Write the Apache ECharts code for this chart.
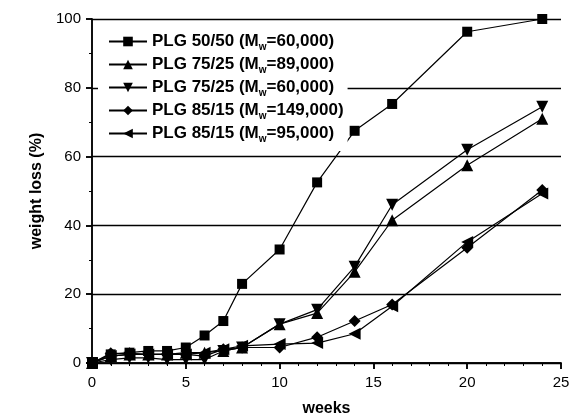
<!DOCTYPE html>
<html>
<head>
<meta charset="utf-8">
<script src="https://cdn.jsdelivr.net/npm/echarts@6/dist/echarts.min.js"></script>
<style>
  html, body { margin: 0; padding: 0; background: #fff; }
  #chart { width: 570px; height: 416px; }
</style>
</head>
<body>
<div id="chart"></div>
<script>
// 数据
const weeks = [0, 1, 2, 3, 4, 5, 6, 7, 8, 10, 12, 14, 16, 20, 24]
const plg5050_60k = [0, 2.5, 3, 3.5, 3.5, 4.5, 8, 12.2, 23, 33, 52.5, 67.5, 75.3, 96.3, 100]
const plg7525_89k = [0, 2, 2.5, 2.5, 2.5, 3, 3, 3.5, 4.5, 11.3, 14.5, 26.5, 41.5, 57.5, 71]
const plg7525_60k = [0, 1, 1.5, 1.5, 1, 1, 1, 3.5, 4.5, 11.3, 15.5, 28, 46, 62, 74.5]
const plg8515_149k = [0, 2.8, 2.8, 2.5, 2.5, 2.5, 2, 4, 4.5, 4.5, 7.5, 12.2, 17, 33.5, 50.3]
const plg8515_95k = [0, 2, 2.5, 2.5, 2.5, 2.5, 3, 4, 5, 5.5, 5.8, 8.5, 16.5, 35.2, 49.3]

const seriesNames = [
  'PLG 50/50 (Mw=60,000)',
  'PLG 75/25 (Mw=89,000)',
  'PLG 75/25 (Mw=60,000)',
  'PLG 85/15 (Mw=149,000)',
  'PLG 85/15 (Mw=95,000)'
]
const yTicks = [0, 20, 40, 60, 80, 100]
const xTicks = [0, 5, 10, 15, 20, 25]

const font = 'Arial, "Liberation Sans", sans-serif'

let pairs = (vals) => weeks.map((w, i) => [w, vals[i]])

let lineSeries = (name, vals, symbol, size, rotate) => ({
  name: name,
  type: 'line',
  data: pairs(vals),
  symbol: symbol,
  symbolSize: size,
  symbolRotate: rotate || 0,
  showAllSymbol: true,
  lineStyle: { color: '#000', width: 1.2 },
  itemStyle: { color: '#000', borderWidth: 0 },
  emphasis: { disabled: true },
  animation: false
})

let chart = echarts.init(document.getElementById('chart'))

let axisCommon = {
  type: 'value',
  axisLine: { show: true, lineStyle: { color: '#000', width: 1.5 } },
  axisTick: { show: true, length: 6, lineStyle: { color: '#000', width: 1.5 } },
  minorTick: { show: true, length: 3, lineStyle: { color: '#000', width: 1 } },
  splitLine: { show: false }
}

let option = {
  backgroundColor: '#fff',
  animation: false,
  grid: { left: 92, right: 9, top: 19, bottom: 53, outerBoundsMode: 'none', containLabel: false },
  legend: {
    data: seriesNames,
    orient: 'vertical',
    left: 98,
    top: 26,
    padding: [7, 4, 7, 10],
    itemGap: 4,
    itemWidth: 38,
    itemHeight: 12,
    backgroundColor: '#fff',
    formatter: function (name) {
      let m = name.match(/^(.*\(M)w(=.*)$/)
      return '{b|' + m[1] + '}{s|w}{b|' + m[2] + '}'
    },
    textStyle: {
      rich: {
        b: { fontFamily: font, fontWeight: 'bold', fontSize: 17, color: '#000' },
        s: { fontFamily: font, fontWeight: 'bold', fontSize: 10, color: '#000', padding: [11, 0, 0, 0] }
      }
    }
  },
  xAxis: [
    Object.assign({}, axisCommon, {
      min: xTicks[0], max: xTicks[xTicks.length - 1], interval: 5,
      position: 'bottom',
      minorTick: { show: true, splitNumber: 5, length: 3, lineStyle: { color: '#000', width: 1 } },
      axisLabel: { color: '#000', fontSize: 15, fontFamily: font, margin: 12 },
      name: 'weeks',
      nameLocation: 'middle',
      nameGap: 38,
      nameTextStyle: { color: '#000', fontSize: 16, fontWeight: 'bold', fontFamily: font }
    }),
    Object.assign({}, axisCommon, {
      min: xTicks[0], max: xTicks[xTicks.length - 1], interval: 5,
      position: 'top',
      axisTick: { show: true, inside: true, length: 6, lineStyle: { color: '#000', width: 1.5 } },
      minorTick: { show: true, splitNumber: 5, length: 3, lineStyle: { color: '#000', width: 1 } },
      axisLabel: { show: false }
    })
  ],
  yAxis: [
    Object.assign({}, axisCommon, {
      min: yTicks[0], max: yTicks[yTicks.length - 1], interval: 20,
      position: 'left',
      minorTick: { show: true, splitNumber: 2, length: 3, lineStyle: { color: '#000', width: 1 } },
      splitLine: { show: true, lineStyle: { color: '#000', width: 1.3 } },
      axisLabel: { color: '#000', fontSize: 15, fontFamily: font, margin: 11 },
      name: 'weight loss (%)',
      nameLocation: 'middle',
      nameGap: 39,
      nameTextStyle: { color: '#000', fontSize: 16, fontWeight: 'bold', fontFamily: font }
    }),
    Object.assign({}, axisCommon, {
      min: yTicks[0], max: yTicks[yTicks.length - 1], interval: 20,
      position: 'right',
      axisTick: { show: true, inside: true, length: 6, lineStyle: { color: '#000', width: 1.5 } },
      minorTick: { show: true, splitNumber: 2, length: 3, lineStyle: { color: '#000', width: 1 } },
      axisLabel: { show: false }
    })
  ],
  series: [
    lineSeries(seriesNames[0], plg5050_60k, 'rect', 10),
    lineSeries(seriesNames[1], plg7525_89k, 'triangle', 12),
    lineSeries(seriesNames[2], plg7525_60k, 'triangle', 12, 180),
    lineSeries(seriesNames[3], plg8515_149k, 'diamond', 12),
    lineSeries(seriesNames[4], plg8515_95k, 'triangle', 12, 90)
  ]
}

chart.setOption(option)
</script>
</body>
</html>
